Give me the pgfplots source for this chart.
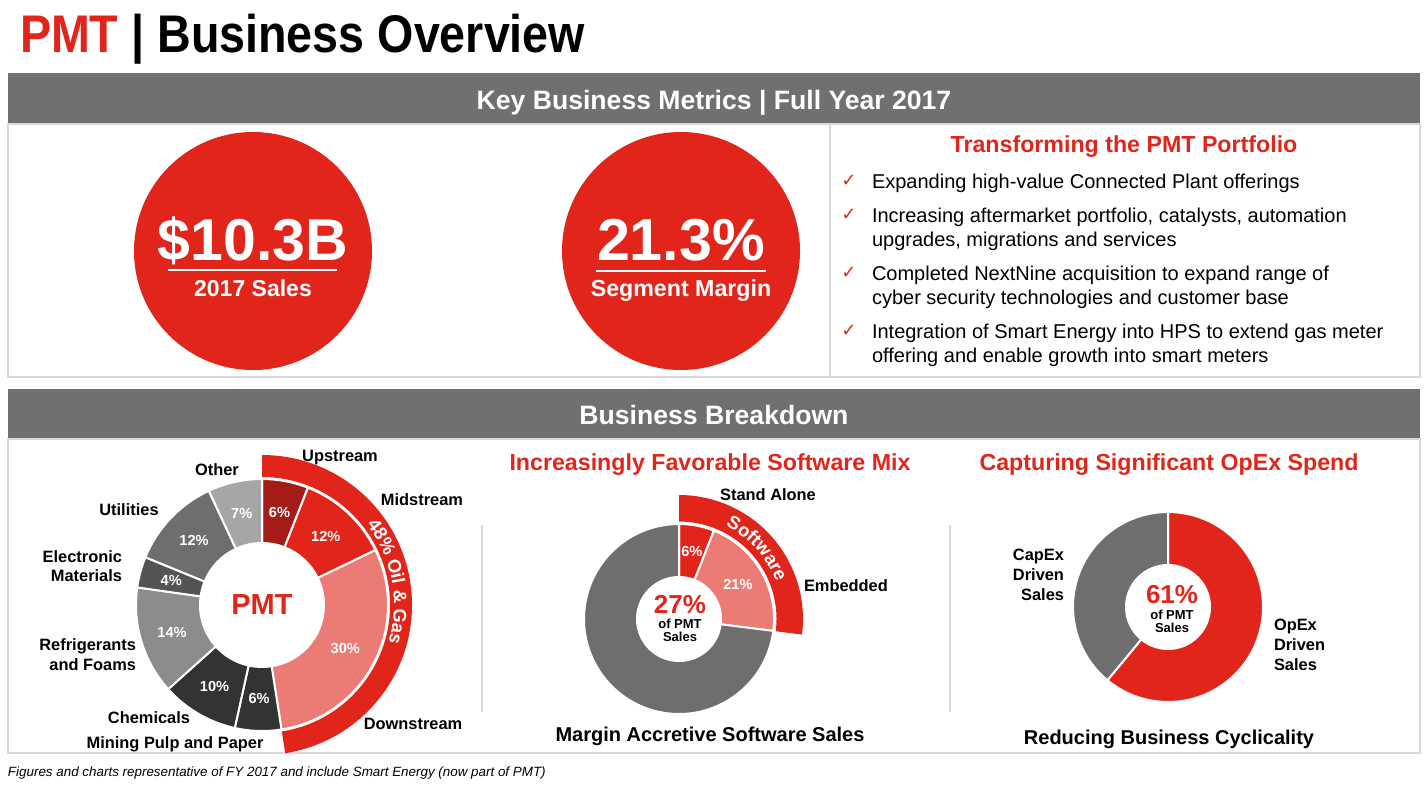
\documentclass[border=0pt]{standalone}
\usepackage{pgfplots}
\pgfplotsset{compat=1.18}
\usetikzlibrary{decorations.text}
\usepackage{fontspec}
\setmainfont{Liberation Sans}
\newfontfamily\dejavu{DejaVu Sans}
\definecolor{hred}{HTML}{E1251B}
\definecolor{hdred}{HTML}{A51B16}
\definecolor{hpink}{HTML}{EB7B74}
\definecolor{gdark}{HTML}{333333}
\definecolor{gA}{HTML}{545454}
\definecolor{gB}{HTML}{6E6E6E}
\definecolor{gC}{HTML}{8C8C8C}
\definecolor{gD}{HTML}{A6A6A6}
\definecolor{hbar}{HTML}{707070}
\definecolor{pline}{HTML}{D9D9D9}
\newcommand{\fs}[1]{\fontsize{#1}{#1}\selectfont}
\newcommand{\bandfont}{\bfseries\fontsize{9.2}{10}\selectfont}
\begin{document}
\begin{tikzpicture}[every node/.style={inner sep=0pt, outer sep=0pt}]
\begin{axis}[x=0.5pt, y=0.5pt, xmin=0, xmax=1427, ymin=0, ymax=784,
  hide axis, clip=false, scale only axis]
\addplot[draw=none, forget plot] coordinates {(0,0) (1427,784)};
\pgfplotsextra{
\fill[white] (axis cs:0,0) rectangle (axis cs:1427,784);
% title
\node[anchor=base west] at (axis cs:20,732) {\scalebox{0.88}[1]{\bfseries\fs{26.5}\textcolor{hred}{PMT} | Business Overview}};
% header bars and panels
\fill[hbar] (axis cs:8,711) rectangle (axis cs:1420,660);
\draw[pline, line width=0.8pt] (axis cs:8,660) rectangle (axis cs:1420,407);
\draw[pline, line width=0.8pt] (axis cs:830,660) -- (axis cs:830,407);
\node[anchor=base, white, font=\bfseries\fs{13.3}] at (axis cs:714,675) {Key Business Metrics | Full Year 2017};
\fill[hbar] (axis cs:8,395) rectangle (axis cs:1420,345);
\draw[pline, line width=0.8pt] (axis cs:8,345) rectangle (axis cs:1420,31);
\node[anchor=base, white, font=\bfseries\fs{13.3}] at (axis cs:714,360) {Business Breakdown};
\draw[pline, line width=0.8pt] (axis cs:482,259) -- (axis cs:482,72);
\draw[pline, line width=0.8pt] (axis cs:950,259) -- (axis cs:950,72);
% key metric circles
\fill[hred] (axis cs:253,533) circle[radius=59.5pt];
\fill[hred] (axis cs:681,533) circle[radius=59.5pt];
\draw[white, line width=0.8pt] (axis cs:168,514) -- (axis cs:337,514);
\draw[white, line width=0.8pt] (axis cs:596,513) -- (axis cs:766,513);
\node[anchor=base, white, font=\bfseries\fs{29.5}] at (axis cs:253,524) {\$10.3B};
\node[anchor=base, white, font=\bfseries\fs{11.5}] at (axis cs:253,488) {2017 Sales};
\node[anchor=base, white, font=\bfseries\fs{29.6}] at (axis cs:681,524) {21.3\%};
\node[anchor=base, white, font=\bfseries\fs{11.6}] at (axis cs:681,488) {Segment Margin};
% transforming portfolio
\node[anchor=base, hred, font=\bfseries\fs{11.6}] at (axis cs:1124,632) {Transforming the PMT Portfolio};
\foreach \yy in {596,562,504,446}{
  \node[anchor=base, hred, font=\dejavu\fs{9}] at (axis cs:849,\yy+2) {✓};
}
\node[anchor=base west, font=\fs{10}] at (axis cs:872,596) {Expanding high-value Connected Plant offerings};
\node[anchor=base west, font=\fs{10}] at (axis cs:872,562) {Increasing aftermarket portfolio, catalysts, automation};
\node[anchor=base west, font=\fs{10}] at (axis cs:872,538) {upgrades, migrations and services};
\node[anchor=base west, font=\fs{10}] at (axis cs:872,504) {Completed NextNine acquisition to expand range of};
\node[anchor=base west, font=\fs{10}] at (axis cs:872,480) {cyber security technologies and customer base};
\node[anchor=base west, font=\fs{10}] at (axis cs:872,446) {Integration of Smart Energy into HPS to extend gas meter};
\node[anchor=base west, font=\fs{10}] at (axis cs:872,422) {offering and enable growth into smart meters};
% ===== Donut 1: PMT =====
\coordinate (D1) at (axis cs:262,179);
\fill[hred] ([shift={(90:75pt)}]D1) arc[start angle=90, end angle=-81.1, radius=75pt]
  -- ([shift={(-81.1:64pt)}]D1) arc[start angle=-81.1, end angle=90, radius=64pt] -- cycle;
\gdef\cum{0}
\foreach \v/\c in {6/hdred,12/hred,30/hpink,6/gdark,10/gdark,14/gC,4/gA,12/gB,7/gD}{
  \pgfmathsetmacro\aA{90-\cum/101*360}
  \pgfmathsetmacro\aB{90-(\cum+\v)/101*360}
  \pgfmathsetmacro\aM{(\aA+\aB)/2}
  \fill[\c, draw=white, line width=1pt] ([shift={(\aA:63pt)}]D1) arc[start angle=\aA, end angle=\aB, radius=63pt]
    -- ([shift={(\aB:31pt)}]D1) arc[start angle=\aB, end angle=\aA, radius=31pt] -- cycle;
  \node[white, font=\bfseries\fs{7.3}] at ([shift={(\aM:47pt)}]D1) {\v\%};
  \pgfmathsetmacro\newcum{\cum+\v}
  \xdef\cum{\newcum}
}
\path[decorate, decoration={text along path, text align=center, text color=white,
  text={|\bandfont|48{\%} Oil {\&} Gas}}]
  ([shift={(45:66pt)}]D1) arc[start angle=45, end angle=-24, radius=66pt];
\node[hred, font=\bfseries\fs{14.5}] at (D1) {PMT};
\node[anchor=base, font=\bfseries\fs{8.2}] at (axis cs:340,323) {Upstream};
\node[anchor=base, font=\bfseries\fs{8.2}] at (axis cs:422,279) {Midstream};
\node[anchor=base, font=\bfseries\fs{8.2}] at (axis cs:413,55) {Downstream};
\node[anchor=base, font=\bfseries\fs{8.2}] at (axis cs:175,36) {Mining Pulp and Paper};
\node[anchor=base, font=\bfseries\fs{8.2}] at (axis cs:149,61) {Chemicals};
\node[anchor=base east, font=\bfseries\fs{8.2}] at (axis cs:136,134) {Refrigerants};
\node[anchor=base east, font=\bfseries\fs{8.2}] at (axis cs:136,114) {and Foams};
\node[anchor=base east, font=\bfseries\fs{8.2}] at (axis cs:122,222) {Electronic};
\node[anchor=base east, font=\bfseries\fs{8.2}] at (axis cs:122,203) {Materials};
\node[anchor=base, font=\bfseries\fs{8.2}] at (axis cs:129,269) {Utilities};
\node[anchor=base, font=\bfseries\fs{8.2}] at (axis cs:217,309) {Other};
% ===== Donut 2: Software =====
\node[anchor=base, hred, font=\bfseries\fs{11.6}] at (axis cs:710,314) {Increasingly Favorable Software Mix};
\coordinate (D2) at (axis cs:679,165);
\fill[hred] ([shift={(90:62pt)}]D2) arc[start angle=90, end angle=-7.2, radius=62pt]
  -- ([shift={(-7.2:48.75pt)}]D2) arc[start angle=-7.2, end angle=90, radius=48.75pt] -- cycle;
\gdef\cum{0}
\foreach \v/\c/\lab in {6/hred/1,21/hpink/1,73/gB/0}{
  \pgfmathsetmacro\aA{90-\cum*3.6}
  \pgfmathsetmacro\aB{90-(\cum+\v)*3.6}
  \pgfmathsetmacro\aM{(\aA+\aB)/2}
  \fill[\c, draw=white, line width=1pt] ([shift={(\aA:47.5pt)}]D2) arc[start angle=\aA, end angle=\aB, radius=47.5pt]
    -- ([shift={(\aB:21pt)}]D2) arc[start angle=\aB, end angle=\aA, radius=21pt] -- cycle;
  \ifnum\lab=1
    \node[white, font=\bfseries\fs{7.3}] at ([shift={(\aM:34.25pt)}]D2) {\v\%};
  \fi
  \pgfmathsetmacro\newcum{\cum+\v}
  \xdef\cum{\newcum}
}
\path[decorate, decoration={text along path, text align=center, text color=white,
  text={|\bandfont|Software}}]
  ([shift={(76:52pt)}]D2) arc[start angle=76, end angle=8, radius=52pt];
\node[anchor=base, hred, font=\bfseries\fs{13}] at (axis cs:680,171) {27\%};
\node[anchor=base, font=\bfseries\fs{6.5}] at (axis cs:680,156) {of PMT};
\node[anchor=base, font=\bfseries\fs{6.5}] at (axis cs:680,143) {Sales};
\node[anchor=base, font=\bfseries\fs{8.2}] at (axis cs:768,284) {Stand Alone};
\node[anchor=base west, font=\bfseries\fs{8.2}] at (axis cs:804,193) {Embedded};
\node[anchor=base, font=\bfseries\fs{10}] at (axis cs:710,43) {Margin Accretive Software Sales};
% ===== Donut 3: OpEx =====
\node[anchor=base, hred, font=\bfseries\fs{11.6}] at (axis cs:1169,314) {Capturing Significant OpEx Spend};
\coordinate (D3) at (axis cs:1168,177);
\gdef\cum{0}
\foreach \v/\c in {61/hred,39/gB}{
  \pgfmathsetmacro\aA{90-\cum*3.6}
  \pgfmathsetmacro\aB{90-(\cum+\v)*3.6}
  \fill[\c, draw=white, line width=1pt] ([shift={(\aA:47.5pt)}]D3) arc[start angle=\aA, end angle=\aB, radius=47.5pt]
    -- ([shift={(\aB:21pt)}]D3) arc[start angle=\aB, end angle=\aA, radius=21pt] -- cycle;
  \pgfmathsetmacro\newcum{\cum+\v}
  \xdef\cum{\newcum}
}
\node[anchor=base, hred, font=\bfseries\fs{13}] at (axis cs:1172,181) {61\%};
\node[anchor=base, font=\bfseries\fs{6.5}] at (axis cs:1172,165) {of PMT};
\node[anchor=base, font=\bfseries\fs{6.5}] at (axis cs:1172,152) {Sales};
\node[anchor=base east, font=\bfseries\fs{8.2}] at (axis cs:1064,224) {CapEx};
\node[anchor=base east, font=\bfseries\fs{8.2}] at (axis cs:1064,204) {Driven};
\node[anchor=base east, font=\bfseries\fs{8.2}] at (axis cs:1064,184) {Sales};
\node[anchor=base west, font=\bfseries\fs{8.2}] at (axis cs:1274,154) {OpEx};
\node[anchor=base west, font=\bfseries\fs{8.2}] at (axis cs:1274,134) {Driven};
\node[anchor=base west, font=\bfseries\fs{8.2}] at (axis cs:1274,114) {Sales};
\node[anchor=base, font=\bfseries\fs{10}] at (axis cs:1169,40) {Reducing Business Cyclicality};
% footnote
\node[anchor=base west, font=\itshape\fs{6.7}] at (axis cs:8,8) {Figures and charts representative of FY 2017 and include Smart Energy (now part of PMT)};
}
\end{axis}
\end{tikzpicture}
\end{document}
